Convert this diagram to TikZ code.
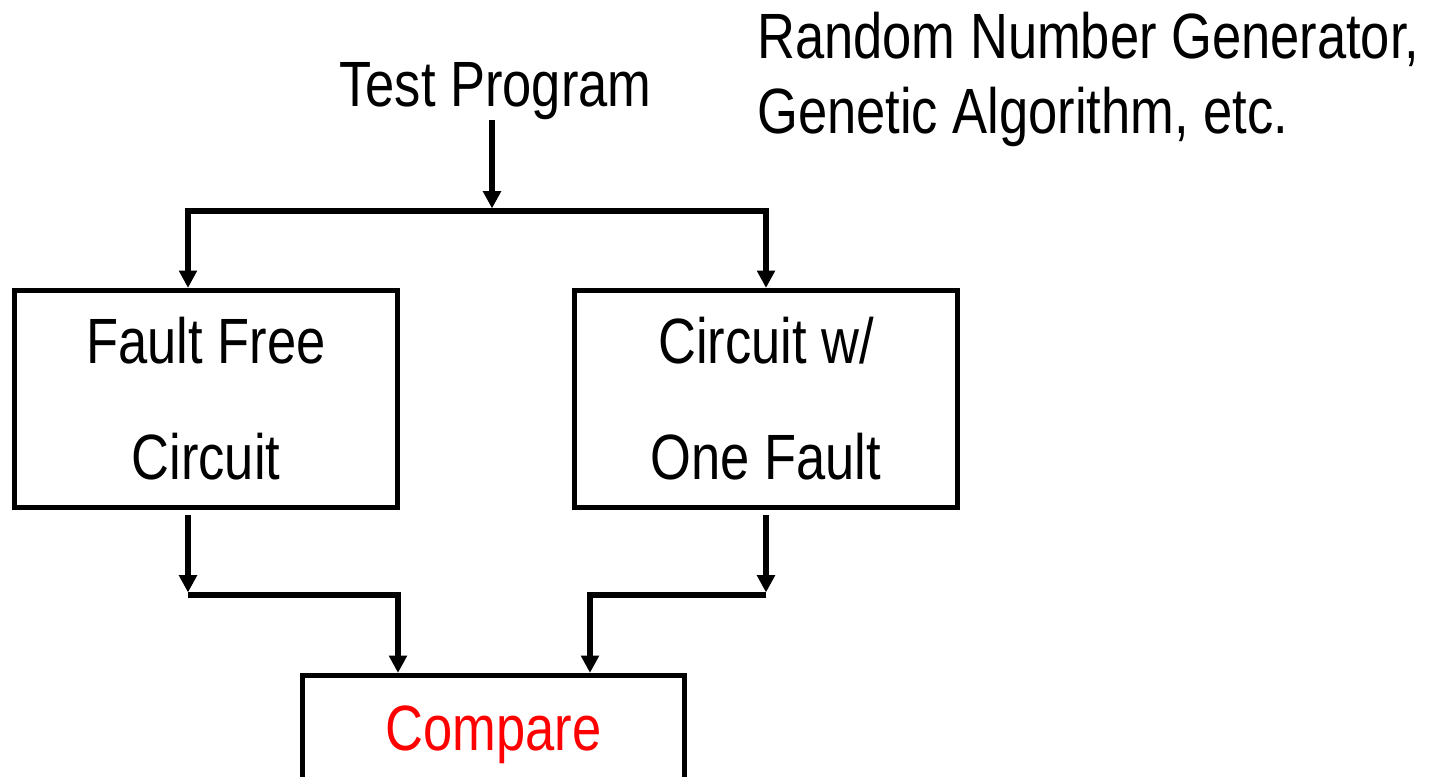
\documentclass[tikz,border=0pt]{standalone}
\usepackage{fontspec}
\setmainfont{Liberation Sans}[FakeStretch=0.82]
\usetikzlibrary{arrows.meta}
\begin{document}
\begin{tikzpicture}[x=0.75pt,y=-0.75pt,
  wire/.style={line width=3.9pt},
  tip/.tip={Triangle[length=13pt,width=13pt]},
  feed/.style={wire,-tip},
  twofeed/.style={wire,tip-tip},
  txt/.style={inner sep=0pt,font=\fontsize{48pt}{56.25pt}\selectfont},
  box/.style={draw,line width=3.9pt,inner sep=0pt,align=center,
    minimum width=287.25pt,minimum height=162.75pt,
    font=\fontsize{48pt}{87pt}\selectfont}]
  \useasboundingbox (0,0) rectangle (1431,776);
  \clip (0,0) rectangle (1431,776);

  % source of the test program
  \node[txt,anchor=base] (tp) at (495.5,106) {Test Program};
  \node[txt,anchor=base west,align=left] (src) at (757,133)
    {Random Number Generator,\\Genetic Algorithm, etc.};

  % the two circuits under simulation
  \node[box] (ff) at (206,399) {Fault Free\\Circuit};
  \node[box] (of) at (766,399) {Circuit w/\\One Fault};

  % comparison stage (runs off the lower edge)
  \node[draw,line width=3.9pt,inner sep=0pt,minimum width=286.5pt,
    minimum height=112.5pt,text height=30pt,text depth=30pt,
    text=red,font=\fontsize{48pt}{56pt}\selectfont] (cmp) at (493.5,750.5) {Compare};

  % branch and join points
  \coordinate (split) at (492,211);
  \coordinate (fl) at (188,211);
  \coordinate (fr) at (766,211);
  \coordinate (jl) at (188,595);
  \coordinate (jr) at (766,595);
  \coordinate (cl) at (398,595);
  \coordinate (cr) at (590,595);

  % fan-out of the test program
  \draw[feed,shorten >=1.9pt] (split |- tp.south) -- (split);
  \draw[twofeed] (fl |- ff.north) -- (fl) -- (fr) -- (fr |- of.north);

  % outputs routed to the comparator
  \draw[feed,shorten <=3.75pt,shorten >=1.9pt] (jl |- ff.south) -- (jl);
  \draw[feed] (jl) -- (cl) -- (cl |- cmp.north);
  \draw[feed,shorten <=3.75pt,shorten >=1.9pt] (jr |- of.south) -- (jr);
  \draw[feed] (jr) -- (cr) -- (cr |- cmp.north);
\end{tikzpicture}
\end{document}
